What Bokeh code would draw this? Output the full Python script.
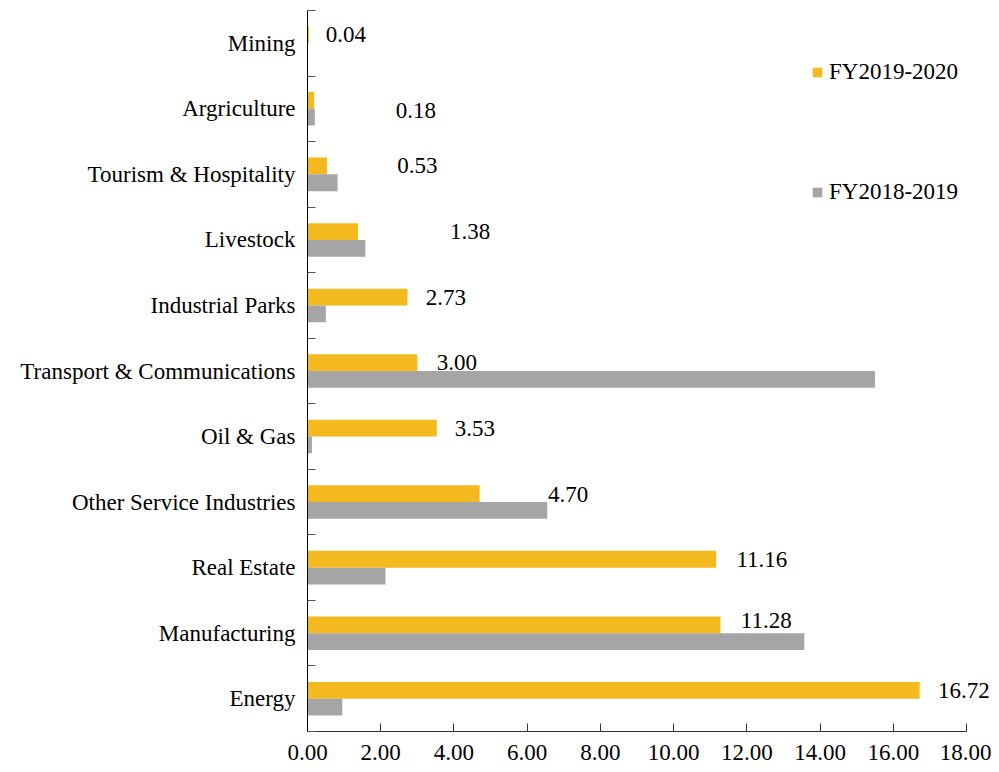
import numpy as np
from bokeh.plotting import figure
from bokeh.models import (ColumnDataSource, Range1d, FixedTicker, NumeralTickFormatter,
                          Legend, LegendItem, LabelSet)
from bokeh.transform import dodge
from bokeh.embed import file_html
from bokeh.resources import INLINE

# Data (bottom to top)
categories = ["Energy", "Manufacturing", "Real Estate", "Other Service Industries",
              "Oil & Gas", "Transport & Communications", "Industrial Parks",
              "Livestock", "Tourism & Hospitality", "Argriculture", "Mining"]
fy2019_2020 = [16.72, 11.28, 11.16, 4.70, 3.53, 3.00, 2.73, 1.38, 0.53, 0.18, 0.04]
fy2018_2019 = [0.95, 13.57, 2.13, 6.55, 0.12, 15.50, 0.50, 1.58, 0.82, 0.20, 0.00]
value_labels = ["16.72", "11.28", "11.16", "4.70", "3.53", "3.00", "2.73", "1.38", "0.53", "0.18", "0.04"]
x_ticks = [0, 2, 4, 6, 8, 10, 12, 14, 16, 18]
x_max = 18

# Label placement (layout only)
label_x = [17.93, 12.53, 12.41, 7.12, 4.57, 4.08, 3.78, 4.44, 3.0, 2.96, 1.05]
label_dy = [0, 4, 0, -1, 0, 0, 0, 0, 0, -10, 0]   # screen px, up-positive

ORANGE = "#F4B91F"
GRAY = "#A5A5A5"
FONT = "Liberation Serif"

n = len(categories)
bh = 0.256
ypos = (np.arange(n) + 0.5).tolist()
yo = [v + bh / 2 for v in ypos]

src = ColumnDataSource(dict(y=ypos, yo=yo, a=fy2019_2020, b=fy2018_2019,
                            lx=label_x, lt=value_labels, dy=label_dy))

W, H = 991, 764
LEFT = 307
frame_w = W - LEFT
x_end = frame_w / (659.0 / x_max)   # keep 0..18 spanning 659 px, extra room right for labels

p = figure(width=W, height=H, output_backend="svg", toolbar_location=None,
           x_range=Range1d(0, x_end), y_range=Range1d(0, n),
           min_border_left=LEFT, min_border_right=0, min_border_top=10, min_border_bottom=33)
p.outline_line_color = None
p.xgrid.visible = False
p.ygrid.visible = False

r_a = p.hbar(y=dodge("y", bh / 2, range=p.y_range), left=0, right="a", height=bh,
             source=src, fill_color=ORANGE, line_color=None)
r_b = p.hbar(y=dodge("y", -bh / 2, range=p.y_range), left=0, right="b", height=bh,
             source=src, fill_color=GRAY, line_color=None)

labels = LabelSet(x="lx", y="yo", text="lt", source=src, y_offset="dy",
                  text_align="center", text_baseline="middle",
                  text_font=FONT, text_font_size="23px", text_color="black")
p.add_layout(labels)

# x axis
xa = p.xaxis[0]
xa.bounds = (0, x_max)
xa.ticker = FixedTicker(ticks=x_ticks)
xa.formatter = NumeralTickFormatter(format="0.00")
xa.major_label_text_font = FONT
xa.major_label_text_font_size = "23px"
xa.major_label_text_color = "black"
xa.major_label_text_line_height = 1.0
xa.major_tick_in = 8
xa.major_tick_out = 0
xa.minor_tick_in = 0
xa.minor_tick_out = 0
xa.minor_tick_line_color = None
xa.axis_line_color = "#333333"
xa.major_tick_line_color = "#333333"
xa.major_label_standoff = 13

# y axis
ya = p.yaxis[0]
ya.ticker = FixedTicker(ticks=ypos, minor_ticks=list(range(n + 1)))
ya.major_label_overrides = {float(v): c for v, c in zip(ypos, categories)}
ya.major_label_text_font = FONT
ya.major_label_text_font_size = "23px"
ya.major_label_text_color = "black"
ya.major_tick_line_color = None
ya.major_tick_in = 0
ya.major_tick_out = 0
ya.minor_tick_in = 8
ya.minor_tick_out = 0
ya.minor_tick_line_color = "#555555"
ya.axis_line_color = "black"
ya.major_label_standoff = 12

legend = Legend(items=[LegendItem(label="FY2019-2020", renderers=[r_a]),
                       LegendItem(label="FY2018-2019", renderers=[r_b])],
                location=(504, 526))
legend.label_text_font = FONT
legend.label_text_font_size = "23px"
legend.label_text_color = "black"
legend.glyph_width = 12
legend.glyph_height = 12
legend.label_height = 24
legend.label_standoff = 6
legend.spacing = 94
legend.padding = 0
legend.margin = 0
legend.border_line_color = None
legend.background_fill_alpha = 0
p.add_layout(legend, "center")

open("out.html", "w").write(file_html(p, INLINE))
